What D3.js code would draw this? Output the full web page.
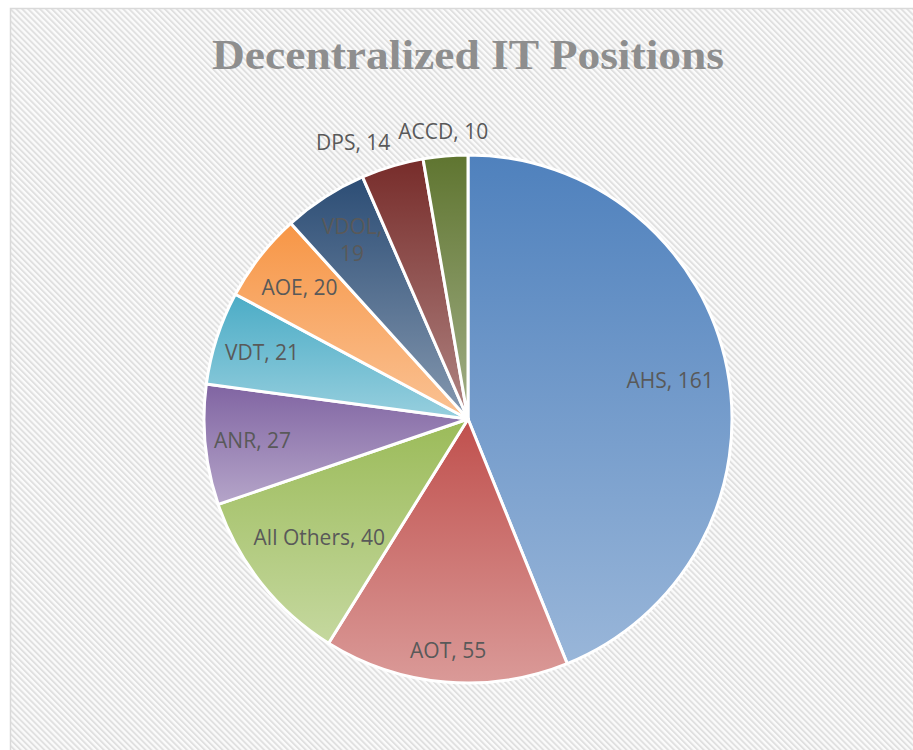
<!DOCTYPE html>
<html><head><meta charset="utf-8">
<script src="https://cdn.jsdelivr.net/npm/d3@7"></script>
<style>
html,body{margin:0;padding:0;background:#fff;overflow:hidden;}
svg{display:block;}
</style></head>
<body>
<svg id="chart" width="913" height="750"></svg>
<script>
// ---- data ----
const categories = ["AHS","AOT","All Others","ANR","VDT","AOE","VDOL","DPS","ACCD"];
const values     = [161, 55, 40, 27, 21, 20, 19, 14, 10];
const colors     = ["#4f81bd","#c0504d","#9bbb59","#8064a2","#4bacc6","#f79646","#2c4d75","#772c2a","#5f7530"];
const title      = "Decentralized IT Positions";
// label placement (fraction of radius, "best fit" look)
const labelRadius = [0.78, 0.88, 0.72, 0.82, 0.82, 0.81, 0.81, 1.095, 1.095];

const W = 913, H = 750;
const svg = d3.select("#chart");
const defs = svg.append("defs");

// hatch background pattern
const pat = defs.append("pattern").attr("id","hatch").attr("patternUnits","userSpaceOnUse")
  .attr("width",4.2).attr("height",4.2).attr("patternTransform","rotate(-45)");
pat.append("rect").attr("width",4.2).attr("height",4.2).attr("fill","#fbfbfb");
pat.append("rect").attr("width",1.9).attr("height",4.2).attr("fill","#e0e0e0");

// chart area
svg.append("rect").attr("x",10.5).attr("y",8.5).attr("width",W).attr("height",H)
  .attr("fill","url(#hatch)").attr("stroke","#d9d9d9").attr("stroke-width",1.5);

// title
svg.append("text").attr("x",468).attr("y",69)
  .attr("text-anchor","middle")
  .attr("font-family","Liberation Serif, 'DejaVu Serif', serif")
  .attr("font-weight","bold").attr("font-size",43)
  .attr("fill","#8e8e8e")
  .attr("textLength",512).attr("lengthAdjust","spacingAndGlyphs")
  .text(title);

// pie
const cx = 468, cy = 419, R = 264;
const data = categories.map((c,i)=>({cat:c, value:values[i], color:colors[i]}));
const pie = d3.pie().value(d=>d.value).sort(null).startAngle(0).endAngle(2*Math.PI);
const arcs = pie(data);
const arc = d3.arc().innerRadius(0).outerRadius(R);

arcs.forEach((a,i)=>{
  const g = defs.append("linearGradient").attr("id","grad"+i)
    .attr("x1",0).attr("y1",0).attr("x2",0).attr("y2",1);
  const base = d3.color(a.data.color);
  const tint = d3.interpolateRgb(a.data.color, "#ffffff")(0.42);
  g.append("stop").attr("offset","0%").attr("stop-color",base.formatHex());
  g.append("stop").attr("offset","100%").attr("stop-color",tint);
});

const gp = svg.append("g").attr("transform",`translate(${cx},${cy})`);
gp.selectAll("path").data(arcs).join("path")
  .attr("d",arc)
  .attr("fill",(d,i)=>`url(#grad${i})`)
  .attr("stroke","#ffffff").attr("stroke-width",3).attr("stroke-linejoin","round");

// labels
const gl = svg.append("g").attr("font-family","'Open Sans', sans-serif")
  .attr("font-size",21).attr("fill","#595959");
const labels = [];
arcs.forEach((a,i)=>{
  const mid = (a.startAngle+a.endAngle)/2;
  const outside = labelRadius[i] > 1;
  const rr = R*labelRadius[i];
  const x = cx + rr*Math.sin(mid), y = cy - rr*Math.cos(mid);
  const t = gl.append("text").attr("text-anchor","middle").attr("dominant-baseline","central")
    .attr("x",x).attr("y",y).text(`${a.data.cat}, ${a.data.value}`);
  if(!outside){
    const w = t.node().getComputedTextLength();
    const chord = 2*rr*Math.sin((a.endAngle-a.startAngle)/2);
    if(w > chord*1.2){
      t.text(null);
      t.append("tspan").attr("x",x).attr("dy","-0.65em").text(`${a.data.cat},`);
      t.append("tspan").attr("x",x).attr("dy","1.3em").text(`${a.data.value}`);
    }
  }
  labels.push({t, x, y, outside, w:t.node().getBBox().width});
});
// resolve overlaps among outside labels (shift earlier label left)
const outs = labels.filter(l=>l.outside);
for(let k=outs.length-2;k>=0;k--){
  const a = outs[k], b = outs[k+1];
  const gap = (b.x - b.w/2) - (a.x + a.w/2);
  if(gap < 8 && Math.abs(a.y-b.y) < 28){
    a.x -= (8-gap);
    a.t.attr("x",a.x);
  }
}
</script>
</body></html>
